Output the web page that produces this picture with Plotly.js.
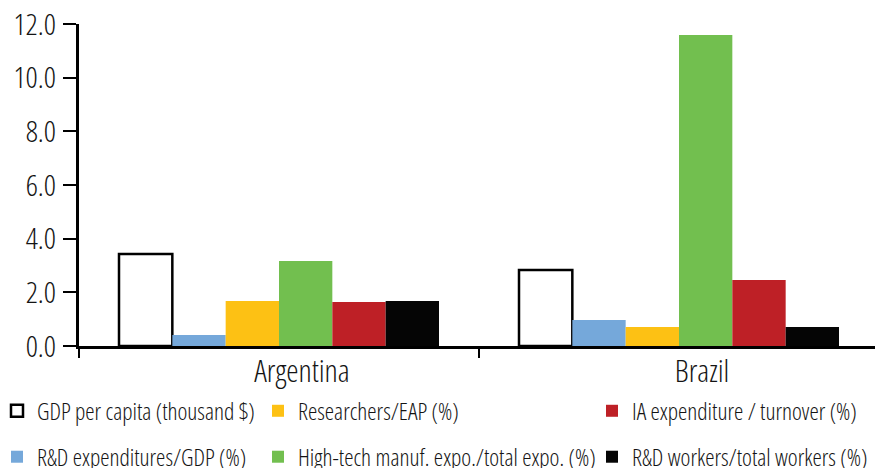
<!DOCTYPE html>
<html>
<head>
<meta charset="utf-8">
<script src="https://cdn.plot.ly/plotly-3.0.1.min.js"></script>
<style>
  html, body { margin: 0; padding: 0; background: #fff; }
  #chart { width: 875px; height: 468px; }
  /* narrow, light humanist face for every label */
  #chart svg text { font-stretch: condensed !important; font-weight: 300 !important; }
</style>
</head>
<body>
<div id="chart"></div>
<script>
// Countries compared
const countries = ['Argentina', 'Brazil'];

// Indicator values per country
const gdpPerCapita      = [3.43, 2.83];
const rdExpenditures    = [0.41, 0.97];
const researchersEap    = [1.68, 0.71];
const highTechExports   = [3.17, 11.59];
const iaExpenditure     = [1.64, 2.46];
const rdWorkers         = [1.68, 0.71];

// Series names, as listed in the legend
const seriesNames = [
  'GDP per capita (thousand $)',
  'R&D expenditures/GDP (%)',
  'Researchers/EAP (%)',
  'High-tech manuf. expo./total expo. (%)',
  'IA expenditure / turnover (%)',
  'R&D workers/total workers (%)'
];

const FONT = '"Open Sans", Roboto, sans-serif';
const TEXT = '#141414';

function bar(name, values, color, legend, group, outline) {
  return {
    type: 'bar',
    name: name,
    x: countries,
    y: values,
    legend: legend,
    legendgroup: group,
    marker: {
      color: color,
      line: outline ? { color: '#000', width: 2.5 } : { width: 0 }
    },
    hoverinfo: 'x+y+name'
  };
}

const traces = [
  bar(seriesNames[0], gdpPerCapita,    '#ffffff', 'legend',  'a', true),
  bar(seriesNames[1], rdExpenditures,  '#75a8da', 'legend',  'b', false),
  bar(seriesNames[2], researchersEap,  '#fdc114', 'legend2', 'c', false),
  bar(seriesNames[3], highTechExports, '#72bf4f', 'legend2', 'd', false),
  bar(seriesNames[4], iaExpenditure,   '#be2026', 'legend3', 'e', false),
  bar(seriesNames[5], rdWorkers,       '#050505', 'legend3', 'f', false)
];

// plot area in pixels: x 79..875, y 24..346
const plotW = 875 - 79;
function px2paperX(px) { return (px - 79) / plotW; }
function px2paperY(py) { return (346 - py) / (346 - 24); }

function legendAt(xpx) {
  return {
    x: px2paperX(xpx), xanchor: 'left',
    y: px2paperY(389), yanchor: 'top',
    orientation: 'v',
    traceorder: 'grouped',
    tracegroupgap: 12.4,
    bgcolor: 'rgba(0,0,0,0)',
    borderwidth: 0,
    font: { family: FONT, size: 23.5, color: TEXT }
  };
}

const layout = {
  width: 875,
  height: 468,
  margin: { l: 79, r: 0, t: 24, b: 122, pad: 0, autoexpand: false },
  paper_bgcolor: '#ffffff',
  plot_bgcolor: '#ffffff',
  font: { family: FONT, color: TEXT },
  barmode: 'group',
  bargap: 0.2,
  bargroupgap: 0,
  showlegend: true,
  legend: legendAt(-3),
  legend2: legendAt(258),
  legend3: legendAt(592),
  xaxis: {
    type: 'category',
    range: [-0.5, 1.49],
    showline: true,
    linecolor: '#000',
    linewidth: 3,
    ticks: 'outside',
    tickson: 'boundaries',
    ticklen: 9,
    tickwidth: 2,
    tickcolor: '#000',
    showgrid: false,
    zeroline: false,
    tickfont: { family: FONT, size: 31, color: TEXT },
    ticklabelshift: 23,
    ticklabelstandoff: -4,
    fixedrange: true
  },
  yaxis: {
    range: [0, 12],
    dtick: 2,
    tick0: 0,
    tickformat: '.1f',
    showline: true,
    linecolor: '#000',
    linewidth: 3,
    ticks: 'outside',
    ticklen: 13,
    tickwidth: 2,
    tickcolor: '#000',
    showgrid: false,
    zeroline: false,
    tickfont: { family: FONT, size: 30, color: TEXT },
    ticklabelstandoff: 1,
    fixedrange: true
  }
};

Plotly.newPlot('chart', traces, layout, { displayModeBar: false, staticPlot: true });
</script>
</body>
</html>
